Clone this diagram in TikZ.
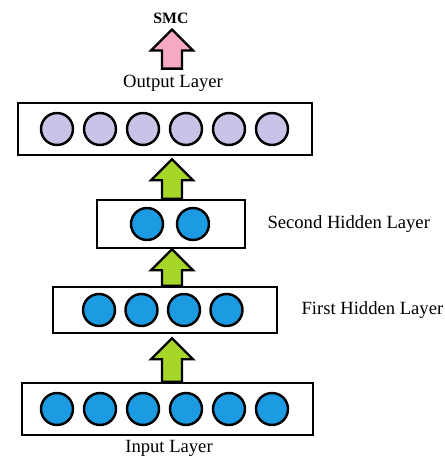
\documentclass[tikz,border=0pt]{standalone}
\usepackage{fontspec}
\setmainfont{Liberation Serif}
\usetikzlibrary{calc}
\usetikzlibrary{positioning}

\definecolor{unitblue}{RGB}{28,155,226}
\definecolor{unitlilac}{RGB}{201,195,232}
\definecolor{flowgreen}{RGB}{166,214,40}
\definecolor{flowpink}{RGB}{248,170,196}

\tikzset{
  layerbox/.style={draw, line width=1.5pt, inner sep=0pt},
  unit/.style={circle, draw, line width=1.4pt, minimum size=0.64cm, inner sep=0pt},
  layertext/.style={font=\fontsize{10.6}{12}\selectfont},
}

% fat arrow pointing up, from #1 (foot) to #2 (tip)
\newcommand{\flowarrow}[3]{%
  \draw[line width=1.3pt, line join=miter, fill=#3] let \p1=(#1), \p2=(#2) in
    (\x1-0.2cm,\y1) -- (\x1-0.2cm,\y2-0.42cm) -- (\x1-0.42cm,\y2-0.42cm) -- (\x1,\y2)
    -- (\x1+0.42cm,\y2-0.42cm) -- (\x1+0.2cm,\y2-0.42cm) -- (\x1+0.2cm,\y1) -- cycle;}

\begin{document}
\begin{tikzpicture}
\useasboundingbox (0,0) rectangle (8.9,9.32);

% layers
\node[layerbox, minimum width=5.88cm, minimum height=1.04cm] (out) at (3.30,6.74) {};
\node[layerbox, minimum width=2.96cm, minimum height=0.96cm] (hid2) at (3.42,4.84) {};
\node[layerbox, minimum width=4.48cm, minimum height=0.92cm] (hid1) at (3.30,3.12) {};
\node[layerbox, minimum width=5.82cm, minimum height=1.04cm] (in) at (3.35,1.14) {};

% units
\foreach \i in {0,...,5}
  \node[unit, fill=unitlilac] (out\i) at (1.14+0.86*\i,6.74) {};
\foreach \i in {0,1}
  \node[unit, fill=unitblue] (hidB\i) at (2.94+0.92*\i,4.84) {};
\foreach \i in {0,...,3}
  \node[unit, fill=unitblue] (hidA\i) at (1.98+0.85*\i,3.12) {};
\foreach \i in {0,...,5}
  \node[unit, fill=unitblue] (in\i) at (1.14+0.86*\i,1.14) {};

% labels
\node[font=\fontsize{9}{10}\selectfont\bfseries] (smc) at (3.42,8.96) {SMC};
\node[layertext] (outlbl) at (3.46,7.66) {Output Layer};
\node[layertext, right=0.3cm of hid2] (hid2lbl) {Second Hidden Layer};
\node[layertext, right=0.34cm of hid1] (hid1lbl) {First Hidden Layer};
\node[layertext] (inlbl) at (3.38,0.36) {Input Layer};

% flow between layers
\coordinate (axis) at (3.44,0);
\flowarrow{axis |- in.north}{$(axis |- hid1.south)+(0,-0.08)$}{flowgreen}
\flowarrow{axis |- hid1.north}{axis |- hid2.south}{flowgreen}
\flowarrow{axis |- hid2.north}{$(axis |- out.south)+(0,-0.06)$}{flowgreen}
\flowarrow{axis |- outlbl.north}{axis |- smc.south}{flowpink}

\end{tikzpicture}
\end{document}
